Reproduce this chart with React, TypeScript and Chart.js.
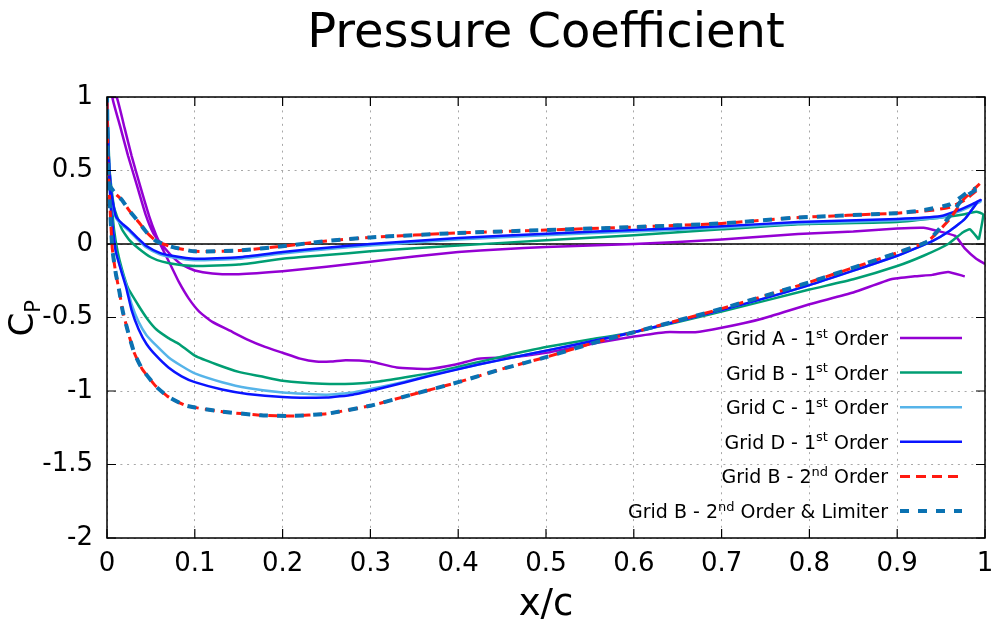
import React, { useEffect, useRef } from 'react';
import { Chart, registerables } from 'chart.js';

Chart.register(...registerables);

const TITLE = 'Pressure Coefficient';
const X_TITLE = 'x/c';
const Y_TITLE_MAIN = 'C';
const Y_TITLE_SUB = 'P';
const X_MIN = 0;
const X_MAX = 1;
const X_STEP = 0.1;
const Y_MIN = -2;
const Y_MAX = 1;
const Y_STEP = 0.5;

// Legend labels: [before superscript, superscript, after superscript]
const LEGEND_LABELS: string[][] = [
  ['Grid A - 1', 'st', ' Order'],
  ['Grid B - 1', 'st', ' Order'],
  ['Grid C - 1', 'st', ' Order'],
  ['Grid D - 1', 'st', ' Order'],
  ['Grid B - 2', 'nd', ' Order'],
  ['Grid B - 2', 'nd', ' Order & Limiter'],
];

// ---------- Grid A - 1st order ----------
const gridA_sucX = [0.011, 0.02, 0.028, 0.038, 0.048, 0.056, 0.063, 0.073, 0.082, 0.093, 0.105, 0.12, 0.14, 0.16, 0.18, 0.2, 0.22, 0.238, 0.255, 0.272, 0.3, 0.33, 0.366, 0.397, 0.423, 0.46, 0.5, 0.56, 0.6, 0.636, 0.67, 0.7, 0.745, 0.8, 0.85, 0.893, 0.92, 0.94, 0.958, 0.977];
const gridA_sucY = [1.0, 0.79, 0.6, 0.39, 0.19, 0.06, -0.03, -0.15, -0.26, -0.37, -0.46, -0.53, -0.59, -0.65, -0.7, -0.74, -0.78, -0.8, -0.8, -0.79, -0.8, -0.84, -0.85, -0.82, -0.78, -0.77, -0.74, -0.67, -0.63, -0.6, -0.6, -0.57, -0.51, -0.41, -0.33, -0.24, -0.22, -0.21, -0.19, -0.22];
const gridA_preX = [0.006, 0.015, 0.024, 0.034, 0.044, 0.053, 0.062, 0.072, 0.085, 0.1, 0.12, 0.15, 0.2, 0.25, 0.3, 0.35, 0.4, 0.45, 0.5, 0.6, 0.7, 0.787, 0.85, 0.9, 0.93, 0.945, 0.966, 0.977, 0.99, 1.0];
const gridA_preY = [1.0, 0.8, 0.6, 0.4, 0.2, 0.07, 0.0, -0.07, -0.14, -0.18, -0.2, -0.205, -0.185, -0.155, -0.12, -0.085, -0.055, -0.035, -0.02, 0.0, 0.03, 0.068, 0.085, 0.105, 0.11, 0.09, 0.055, -0.03, -0.1, -0.135];

// ---------- Grid B - 1st order ----------
const gridB1_sucX = [0, 0.002, 0.005, 0.008, 0.012, 0.017, 0.024, 0.036, 0.046, 0.056, 0.07, 0.082, 0.1, 0.125, 0.15, 0.175, 0.2, 0.245, 0.28, 0.31, 0.347, 0.375, 0.404, 0.433, 0.461, 0.5, 0.55, 0.6, 0.7, 0.8, 0.85, 0.9, 0.93, 0.958, 0.975, 0.983, 0.993];
const gridB1_sucY = [1.0, 0.6, 0.3, 0.1, -0.05, -0.17, -0.3, -0.42, -0.51, -0.58, -0.64, -0.68, -0.76, -0.82, -0.87, -0.9, -0.93, -0.95, -0.95, -0.935, -0.9, -0.87, -0.83, -0.79, -0.75, -0.7, -0.65, -0.6, -0.46, -0.31, -0.24, -0.15, -0.08, 0.0, 0.08, 0.1, 0.03];
const gridB1_preX = [0, 0.003, 0.008, 0.017, 0.025, 0.036, 0.05, 0.063, 0.08, 0.1, 0.15, 0.2, 0.25, 0.3, 0.4, 0.5, 0.6, 0.7, 0.787, 0.9, 0.95, 0.975, 0.99, 0.998];
const gridB1_preY = [1.0, 0.5, 0.25, 0.1, 0.03, -0.03, -0.09, -0.12, -0.14, -0.15, -0.14, -0.1, -0.075, -0.05, -0.01, 0.025, 0.06, 0.1, 0.135, 0.15, 0.18, 0.2, 0.22, 0.2];

// ---------- Grid C - 1st order ----------
const gridC_sucX = [0, 0.002, 0.005, 0.01, 0.017, 0.022, 0.028, 0.036, 0.045, 0.056, 0.07, 0.085, 0.1, 0.131, 0.16, 0.2, 0.25, 0.28, 0.31, 0.34, 0.366, 0.423, 0.48, 0.537, 0.6, 0.7, 0.8, 0.9, 0.94, 0.96, 0.977, 0.992];
const gridC_sucY = [1.0, 0.55, 0.2, -0.05, -0.19, -0.28, -0.41, -0.53, -0.62, -0.69, -0.77, -0.83, -0.88, -0.94, -0.98, -1.01, -1.025, -1.01, -0.975, -0.935, -0.895, -0.82, -0.75, -0.68, -0.6, -0.45, -0.28, -0.08, 0.02, 0.09, 0.17, 0.29];
const gridC_preX = [0, 0.002, 0.005, 0.01, 0.017, 0.025, 0.035, 0.044, 0.06, 0.074, 0.1, 0.15, 0.2, 0.25, 0.3, 0.4, 0.5, 0.6, 0.7, 0.787, 0.9, 0.95, 0.97, 0.985, 0.995];
const gridC_preY = [1.0, 0.6, 0.34, 0.18, 0.13, 0.09, 0.03, -0.02, -0.07, -0.09, -0.11, -0.1, -0.065, -0.035, -0.01, 0.03, 0.06, 0.085, 0.11, 0.14, 0.16, 0.18, 0.22, 0.26, 0.29];

// ---------- Grid D - 1st order ----------
const gridD_sucX = [0, 0.002, 0.005, 0.01, 0.017, 0.022, 0.028, 0.036, 0.045, 0.056, 0.07, 0.085, 0.1, 0.131, 0.16, 0.2, 0.25, 0.28, 0.31, 0.34, 0.366, 0.423, 0.48, 0.537, 0.6, 0.7, 0.8, 0.9, 0.94, 0.96, 0.977, 0.992];
const gridD_sucY = [1.0, 0.55, 0.2, -0.05, -0.2, -0.3, -0.45, -0.58, -0.68, -0.76, -0.84, -0.9, -0.94, -0.99, -1.02, -1.04, -1.045, -1.025, -0.985, -0.94, -0.9, -0.82, -0.75, -0.68, -0.6, -0.45, -0.28, -0.08, 0.02, 0.09, 0.17, 0.29];
const gridD_preX = [0, 0.002, 0.005, 0.01, 0.017, 0.025, 0.035, 0.044, 0.06, 0.074, 0.1, 0.15, 0.2, 0.25, 0.3, 0.4, 0.5, 0.6, 0.7, 0.787, 0.9, 0.95, 0.97, 0.985, 0.995];
const gridD_preY = [1.0, 0.6, 0.35, 0.19, 0.14, 0.1, 0.04, -0.01, -0.06, -0.08, -0.1, -0.09, -0.055, -0.025, 0.0, 0.04, 0.07, 0.095, 0.12, 0.15, 0.17, 0.19, 0.23, 0.27, 0.3];

// ---------- Grid B - 2nd order ----------
const gridB2_sucX = [0, 0.001, 0.003, 0.006, 0.01, 0.014, 0.018, 0.025, 0.031, 0.04, 0.056, 0.07, 0.09, 0.13, 0.175, 0.21, 0.25, 0.3, 0.35, 0.4, 0.45, 0.5, 0.55, 0.6, 0.7, 0.8, 0.9, 0.935, 0.96, 0.975, 0.994];
const gridB2_sucY = [1.0, 0.6, 0.3, -0.03, -0.2, -0.32, -0.46, -0.62, -0.74, -0.85, -0.97, -1.04, -1.1, -1.14, -1.165, -1.17, -1.155, -1.1, -1.02, -0.94, -0.85, -0.77, -0.68, -0.6, -0.44, -0.26, -0.06, 0.02, 0.17, 0.3, 0.41];
const gridB2_preX = [0, 0.001, 0.003, 0.01, 0.017, 0.025, 0.036, 0.045, 0.056, 0.074, 0.1, 0.15, 0.2, 0.25, 0.3, 0.4, 0.5, 0.6, 0.7, 0.787, 0.9, 0.94, 0.96, 0.977, 0.99];
const gridB2_preY = [1.0, 0.6, 0.4, 0.34, 0.3, 0.23, 0.15, 0.08, 0.02, -0.02, -0.05, -0.045, -0.015, 0.02, 0.045, 0.075, 0.095, 0.115, 0.14, 0.18, 0.21, 0.23, 0.25, 0.3, 0.36];

// ---------- Grid B - 2nd order & limiter ----------
const gridBL_sucX = [0, 0.001, 0.003, 0.006, 0.01, 0.014, 0.018, 0.025, 0.031, 0.04, 0.056, 0.07, 0.09, 0.13, 0.175, 0.21, 0.25, 0.3, 0.35, 0.4, 0.45, 0.5, 0.55, 0.6, 0.7, 0.8, 0.9, 0.935, 0.96, 0.975, 0.99];
const gridBL_sucY = [1.0, 0.6, 0.3, -0.03, -0.2, -0.32, -0.46, -0.62, -0.74, -0.85, -0.97, -1.04, -1.1, -1.14, -1.165, -1.17, -1.155, -1.1, -1.02, -0.94, -0.85, -0.77, -0.68, -0.6, -0.44, -0.26, -0.06, 0.02, 0.19, 0.31, 0.37];
const gridBL_preX = [0, 0.001, 0.003, 0.01, 0.017, 0.025, 0.036, 0.045, 0.056, 0.074, 0.1, 0.15, 0.2, 0.25, 0.3, 0.4, 0.5, 0.6, 0.7, 0.787, 0.9, 0.93, 0.96, 0.98, 0.99];
const gridBL_preY = [1.0, 0.6, 0.4, 0.34, 0.3, 0.23, 0.15, 0.08, 0.02, -0.02, -0.05, -0.045, -0.015, 0.02, 0.045, 0.075, 0.095, 0.115, 0.14, 0.18, 0.21, 0.23, 0.27, 0.35, 0.38];

const COLORS = ['#9400d3', '#009e73', '#56b4e9', '#0a14ff', '#ff1a10', '#0a72b2'];
const WIDTHS = [2.5, 2.5, 2.5, 2.5, 3, 4];
const DASHES: number[][] = [[], [], [], [], [10, 6], [9, 9]];

const FONT = '"DejaVu Sans", "Liberation Sans", sans-serif';

function loop(sx: number[], sy: number[], px: number[], py: number[], close: boolean) {
  const pts: { x: number; y: number }[] = [];
  for (let i = sx.length - 1; i >= 0; i--) pts.push({ x: sx[i], y: sy[i] });
  for (let i = 0; i < px.length; i++) pts.push({ x: px[i], y: py[i] });
  if (close) pts.push({ x: sx[sx.length - 1], y: sy[sy.length - 1] });
  return pts;
}

const SERIES = [
  loop(gridA_sucX, gridA_sucY, gridA_preX, gridA_preY, false),
  loop(gridB1_sucX, gridB1_sucY, gridB1_preX, gridB1_preY, true),
  loop(gridC_sucX, gridC_sucY, gridC_preX, gridC_preY, true),
  loop(gridD_sucX, gridD_sucY, gridD_preX, gridD_preY, true),
  loop(gridB2_sucX, gridB2_sucY, gridB2_preX, gridB2_preY, false),
  loop(gridBL_sucX, gridBL_sucY, gridBL_preX, gridBL_preY, false),
];

const fmt = (v: any) => String(Math.round(Number(v) * 10) / 10);

const decoPlugin = {
  id: 'deco',
  beforeDatasetsDraw(chart: any) {
    const { ctx, chartArea: a, scales } = chart;
    const y0 = scales.y.getPixelForValue(0);
    ctx.save();
    ctx.strokeStyle = '#000';
    ctx.lineWidth = 1.5;
    ctx.beginPath();
    ctx.moveTo(a.left, y0);
    ctx.lineTo(a.right, y0);
    ctx.stroke();
    ctx.restore();
  },
  afterDatasetsDraw(chart: any) {
    const { ctx, chartArea: a, scales } = chart;
    ctx.save();
    // frame
    ctx.strokeStyle = '#000';
    ctx.lineWidth = 1.5;
    ctx.strokeRect(a.left, a.top, a.right - a.left, a.bottom - a.top);
    // inward ticks
    ctx.lineWidth = 1.2;
    ctx.beginPath();
    const tl = 9;
    scales.x.ticks.forEach((t: any) => {
      const px = scales.x.getPixelForValue(t.value);
      ctx.moveTo(px, a.bottom);
      ctx.lineTo(px, a.bottom - tl);
      ctx.moveTo(px, a.top);
      ctx.lineTo(px, a.top + tl);
    });
    scales.y.ticks.forEach((t: any) => {
      const py = scales.y.getPixelForValue(t.value);
      ctx.moveTo(a.left, py);
      ctx.lineTo(a.left + tl, py);
      ctx.moveTo(a.right, py);
      ctx.lineTo(a.right - tl, py);
    });
    ctx.stroke();

    ctx.fillStyle = '#000';
    // title
    ctx.font = `48px ${FONT}`;
    ctx.textAlign = 'center';
    ctx.textBaseline = 'alphabetic';
    ctx.fillText(TITLE, (a.left + a.right) / 2, 47);
    // x title
    ctx.font = `37px ${FONT}`;
    ctx.fillText(X_TITLE, (a.left + a.right) / 2, 615);
    // y title
    ctx.save();
    ctx.translate(33, (a.top + a.bottom) / 2 + 19);
    ctx.rotate(-Math.PI / 2);
    ctx.textAlign = 'left';
    ctx.font = `34px ${FONT}`;
    ctx.fillText(Y_TITLE_MAIN, 0, 0);
    const cw = ctx.measureText(Y_TITLE_MAIN).width;
    ctx.font = `21px ${FONT}`;
    ctx.fillText(Y_TITLE_SUB, cw, 7);
    ctx.restore();

    // legend
    const textRight = a.right - 97;
    const sampleL = a.right - 85;
    const sampleR = a.right - 23;
    const rowTop = 338;
    const rowGap = 34.6;
    const mainFont = `19px ${FONT}`;
    const supFont = `13px ${FONT}`;
    LEGEND_LABELS.forEach((parts, i) => {
      const cy = rowTop + i * rowGap;
      const base = cy + 7;
      let total = 0;
      const widths = parts.map((p, j) => {
        ctx.font = j === 1 ? supFont : mainFont;
        const w = ctx.measureText(p).width;
        total += w;
        return w;
      });
      let x = textRight - total;
      ctx.textAlign = 'left';
      ctx.fillStyle = '#000';
      parts.forEach((p, j) => {
        ctx.font = j === 1 ? supFont : mainFont;
        ctx.fillText(p, x, j === 1 ? base - 7.5 : base);
        x += widths[j];
      });
      ctx.strokeStyle = COLORS[i];
      ctx.lineWidth = WIDTHS[i];
      ctx.setLineDash(DASHES[i]);
      ctx.beginPath();
      ctx.moveTo(sampleL, cy);
      ctx.lineTo(sampleR, cy);
      ctx.stroke();
      ctx.setLineDash([]);
    });
    ctx.restore();
  },
};

export default function App() {
  const ref = useRef<HTMLCanvasElement | null>(null);
  useEffect(() => {
    document.body.style.margin = '0';
    const canvas = ref.current;
    if (!canvas) return;
    const orders = [6, 5, 4, 3, 2, 1];
    const chart = new Chart(canvas, {
      type: 'scatter',
      data: {
        datasets: SERIES.map((pts, i) => ({
          label: LEGEND_LABELS[i].join(''),
          data: pts,
          showLine: true,
          borderColor: COLORS[i],
          backgroundColor: COLORS[i],
          borderWidth: WIDTHS[i],
          borderDash: DASHES[i],
          borderJoinStyle: 'round' as const,
          pointRadius: 0,
          pointHoverRadius: 0,
          tension: 0.15,
          fill: false,
          order: orders[i],
        })),
      },
      options: {
        animation: false,
        responsive: false,
        events: [],
        layout: { padding: { top: 97, right: 13, left: 0, bottom: 0 } },
        plugins: {
          legend: { display: false },
          title: { display: false },
          tooltip: { enabled: false },
        },
        scales: {
          x: {
            type: 'linear',
            min: X_MIN,
            max: X_MAX,
            afterFit: (s: any) => { s.height = 83; s.paddingLeft = 0; s.paddingRight = 0; },
            ticks: {
              stepSize: X_STEP,
              padding: 11,
              color: '#000',
              font: { family: FONT, size: 26 },
              callback: fmt,
            },
            grid: { color: '#a8a8a8', lineWidth: 1, drawTicks: false },
            border: { display: false, dash: [2, 4.7] },
          },
          y: {
            type: 'linear',
            min: Y_MIN,
            max: Y_MAX,
            afterFit: (s: any) => { s.width = 107; s.paddingTop = 0; s.paddingBottom = 0; },
            ticks: {
              stepSize: Y_STEP,
              padding: 14,
              color: '#000',
              font: { family: FONT, size: 26 },
              callback: fmt,
            },
            grid: { color: '#a8a8a8', lineWidth: 1, drawTicks: false },
            border: { display: false, dash: [2, 4.7] },
          },
        },
      },
      plugins: [decoPlugin],
    });
    return () => chart.destroy();
  }, []);
  return (
    <div style={{ position: 'absolute', left: 0, top: 0, width: 998, height: 621, background: '#fff' }}>
      <canvas ref={ref} width={998} height={621} style={{ display: 'block' }} />
    </div>
  );
}
